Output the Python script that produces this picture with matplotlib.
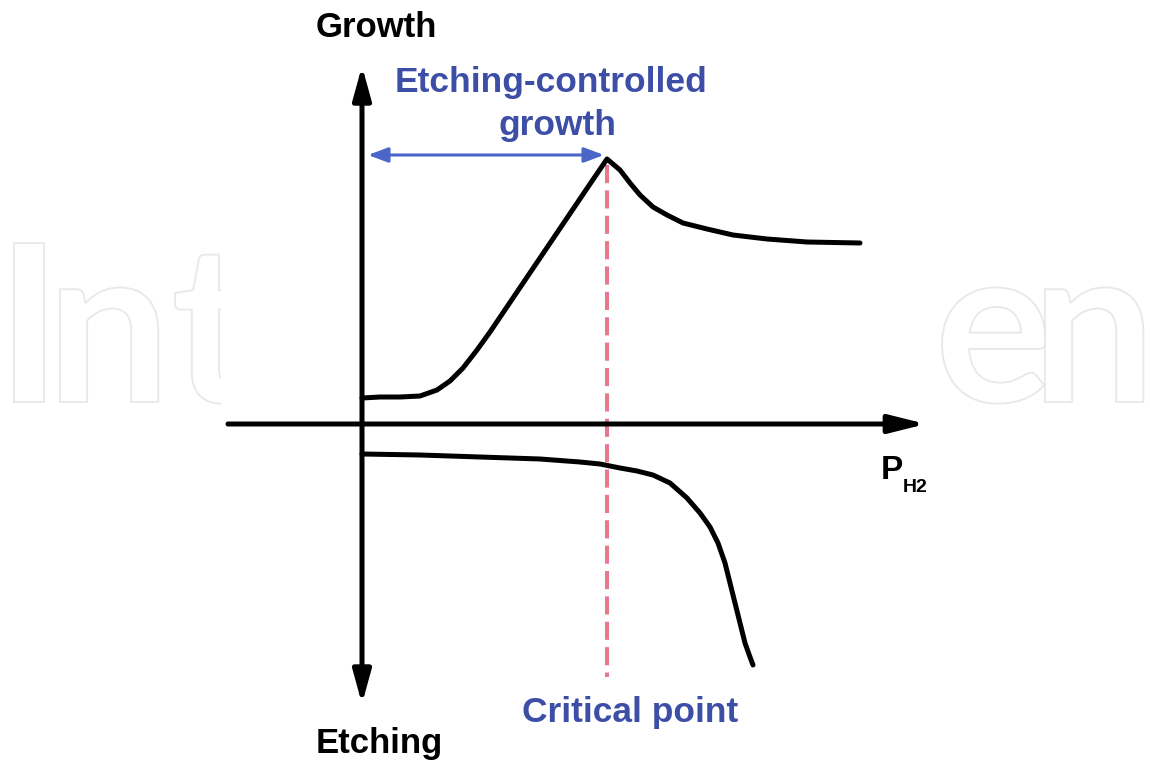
import numpy as np
import matplotlib
matplotlib.use("Agg")
import matplotlib.pyplot as plt
from matplotlib.patches import FancyArrowPatch, PathPatch, Rectangle, ArrowStyle
from matplotlib.textpath import TextPath
from matplotlib.font_manager import FontProperties
from matplotlib.transforms import Affine2D

# Schematic curves (x: P_H2, y: rate; arbitrary units)
growth_x = [0.00, 0.18, 0.38, 0.58, 0.75, 0.88, 1.01, 1.15, 1.28, 1.78, 2.28, 2.45,
            2.58, 2.68, 2.78, 2.91, 3.05, 3.21, 3.45, 3.71, 4.05, 4.45, 4.98]
growth_y = [0.26, 0.27, 0.27, 0.28, 0.34, 0.43, 0.56, 0.74, 0.92, 1.66, 2.40, 2.65,
            2.54, 2.41, 2.29, 2.17, 2.09, 2.01, 1.95, 1.89, 1.85, 1.82, 1.81]

etch_x = [0.00, 0.58, 1.18, 1.78, 2.18, 2.38, 2.58, 2.75, 2.91, 3.08, 3.25, 3.38, 3.48,
          3.56, 3.63, 3.68, 3.73, 3.78, 3.83, 3.88, 3.91]
etch_y = [-0.30, -0.31, -0.33, -0.35, -0.38, -0.40, -0.44, -0.47, -0.51, -0.59, -0.74,
          -0.89, -1.03, -1.19, -1.39, -1.59, -1.79, -1.99, -2.19, -2.33, -2.41]

critical_x = 2.45
critical_span = [2.59, -2.53]
etching_controlled_span = [0.06, 2.42]
etching_controlled_y = 2.69

BLUE_TXT = "#3d4ea6"
BLUE_ARR = "#4a66c8"
RED = "#e8798c"

fig = plt.figure(figsize=(11.5, 7.64), dpi=100)
ax = fig.add_axes([0, 0, 1, 1])
ax.set_xlim(-3.62, 7.88)
ax.set_ylim(-3.40, 4.24)
ax.axis("off")

# faint outlined watermark, mostly hidden behind the chart panel
fp = FontProperties(family="Lato", weight="bold")
cap = TextPath((0, 0), "I", size=100, prop=fp).get_extents()
k = 1.59 / cap.height
for letter, left in [("I", -3.48), ("n", -3.02), ("t", -1.87), ("e", 5.80), ("n", 6.83)]:
    tp = TextPath((0, 0), letter, size=100, prop=fp)
    ext = tp.get_extents()
    tr = Affine2D().translate(-ext.x0, 0).scale(k).translate(left, 0.22)
    ax.add_patch(PathPatch(tr.transform_path(tp), facecolor="none", edgecolor="#e8e8e8",
                           lw=1.3, zorder=0.5))
ax.add_patch(Rectangle((-1.41, -3.5), 7.20, 8.0, facecolor="white", edgecolor="none", zorder=1))

# axes
ax.add_patch(FancyArrowPatch((0, -2.80), (0, 3.58),
                             arrowstyle=ArrowStyle("<|-|>", head_length=2.0, head_width=0.55),
                             mutation_scale=10, lw=3.6, color="black", shrinkA=0, shrinkB=0,
                             zorder=3))
ax.add_patch(FancyArrowPatch((-1.34, 0), (5.64, 0),
                             arrowstyle=ArrowStyle("-|>", head_length=2.2, head_width=0.55),
                             mutation_scale=10, lw=3.6, color="black", shrinkA=0, shrinkB=0,
                             zorder=3))

# curves
ax.plot(growth_x, growth_y, color="black", lw=3.6, solid_capstyle="round",
        solid_joinstyle="round", zorder=4)
ax.plot(etch_x, etch_y, color="black", lw=3.6, solid_capstyle="round",
        solid_joinstyle="round", zorder=4)

# critical point
ax.plot([critical_x, critical_x], critical_span, color=RED, lw=2.9,
        ls=(0, (4.5, 1.8)), zorder=2)
ax.add_patch(FancyArrowPatch((etching_controlled_span[0], etching_controlled_y),
                             (etching_controlled_span[1], etching_controlled_y),
                             arrowstyle=ArrowStyle("<|-|>", head_length=1.2, head_width=0.45),
                             mutation_scale=10, lw=2.2, color=BLUE_ARR, shrinkA=0, shrinkB=0,
                             zorder=3))

# labels
bold = dict(family="Liberation Sans", weight="bold")
ax.text(0.14, 3.87, "Growth", fontsize=25, color="black", ha="center", va="baseline", **bold)
ax.text(0.17, -3.29, "Etching", fontsize=25, color="black", ha="center", va="baseline", **bold)
ax.text(1.89, 3.32, "Etching-controlled", fontsize=25.5, color=BLUE_TXT, ha="center",
        va="baseline", **bold)
ax.text(1.95, 2.89, "growth", fontsize=25.5, color=BLUE_TXT, ha="center", va="baseline", **bold)
ax.text(2.68, -2.98, "Critical point", fontsize=25.5, color=BLUE_TXT, ha="center",
        va="baseline", **bold)
ax.text(5.30, -0.55, "P", fontsize=24, color="black", ha="center", va="baseline", **bold)
ax.text(5.41, -0.68, "H2", fontsize=14, color="black", ha="left", va="baseline", **bold)

fig.savefig("out.png", dpi=100, facecolor="white")
